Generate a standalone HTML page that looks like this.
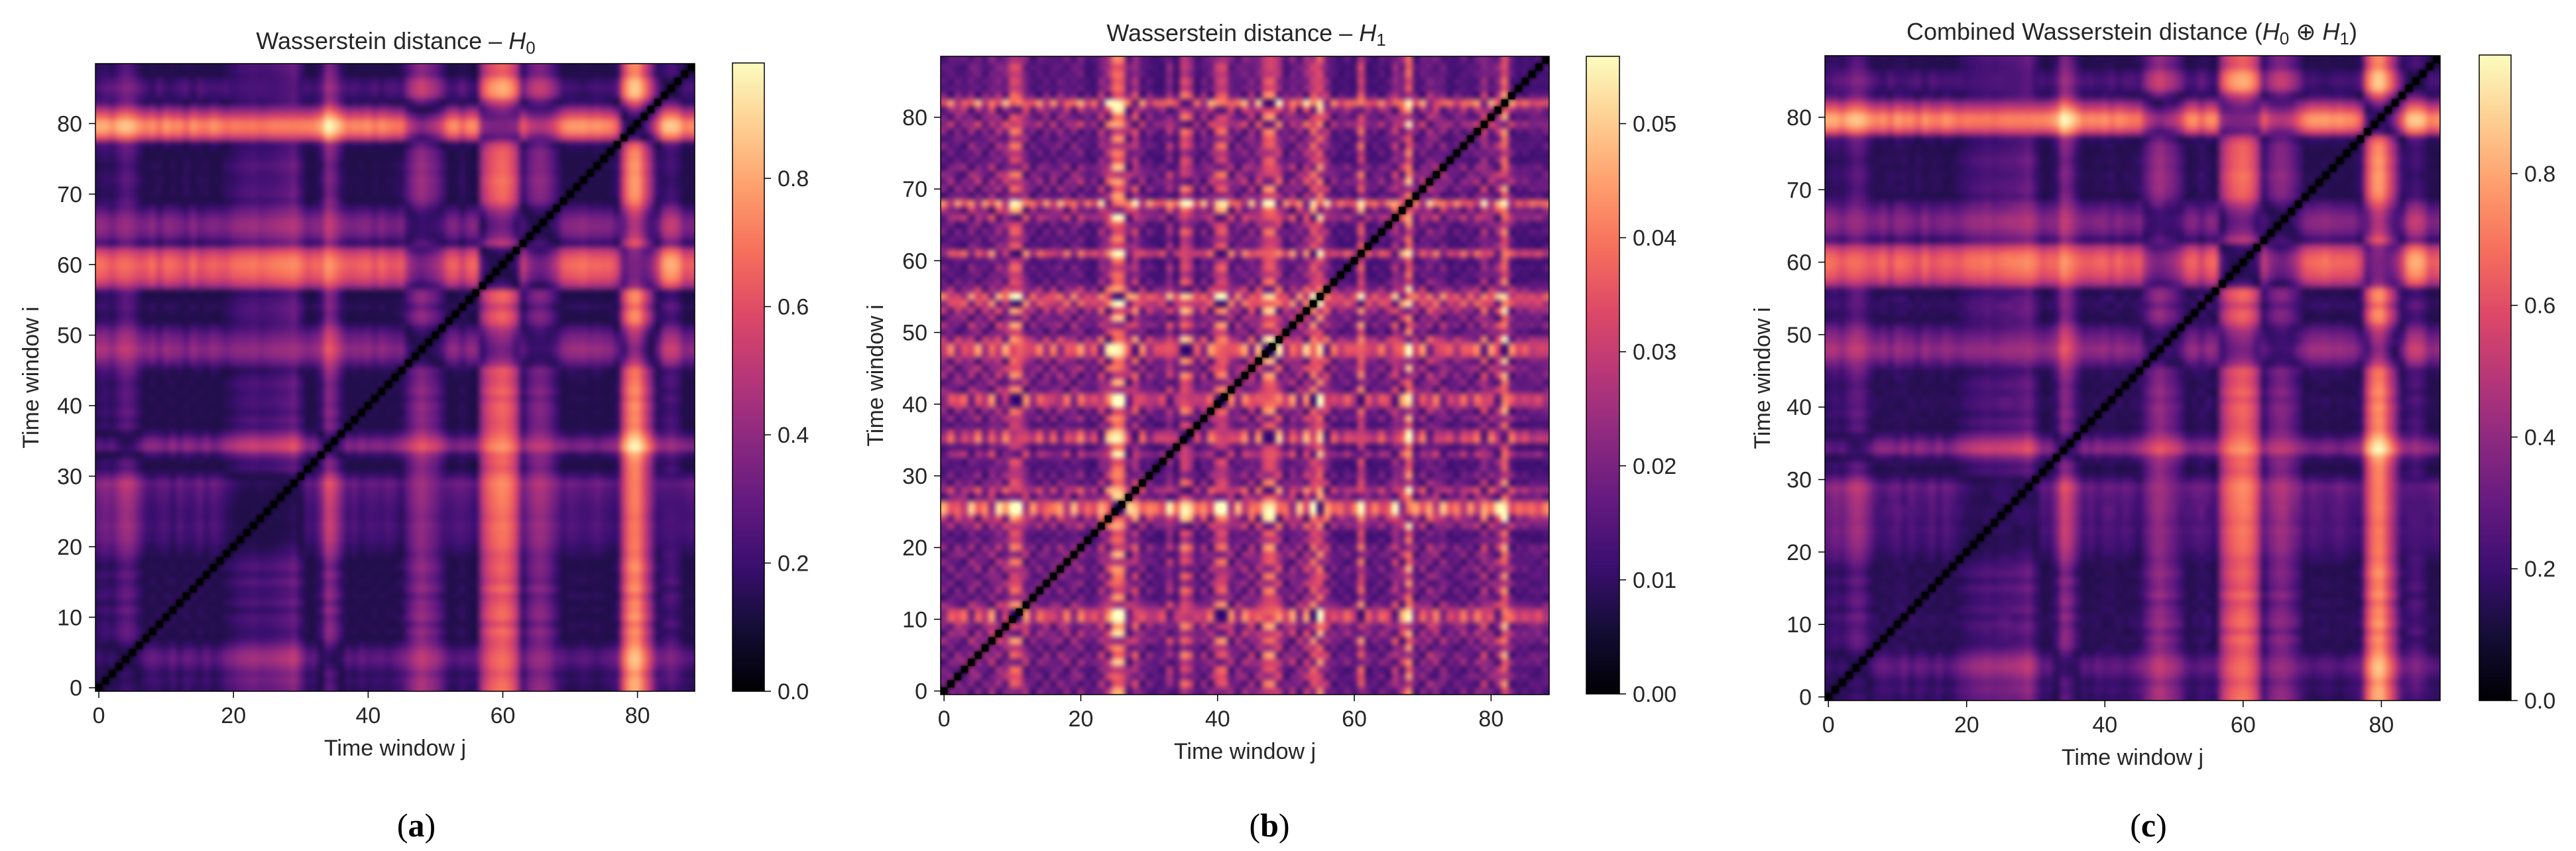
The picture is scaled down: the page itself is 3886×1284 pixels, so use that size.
<!DOCTYPE html>
<html><head><meta charset="utf-8">
<style>
html,body{margin:0;padding:0;background:#fff;}
#root{position:relative;width:3886px;height:1284px;overflow:hidden;background:#fff;}
canvas{position:absolute;}
svg{position:absolute;left:0;top:0;}
</style></head>
<body>
<div id="root">
<canvas id="hmA"></canvas>
<canvas id="hmB"></canvas>
<canvas id="hmC"></canvas>
<canvas id="cbA"></canvas>
<canvas id="cbB"></canvas>
<canvas id="cbC"></canvas>
<svg id="ov" width="3886" height="1284"></svg>
</div>
<script>
// ---- Data: per-window embedding coordinates for H0 ----
const windows = Array.from({length:89},(_, k)=>k);
const h0X = [0.05,0.1,0.1,0.15,0.2,0.18,0.1,0,-0.05,0.02,0,-0.05,0.03,0,-0.03,0.05,-0.02,0.02,0,-0.05,
 -0.1,-0.14,-0.15,-0.17,-0.14,-0.15,-0.17,-0.19,-0.21,-0.24,-0.14,0,-0.02,0.1,0.25,0.22,0.1,
 0,0.03,-0.03,0,0.02,-0.02,0.03,0,-0.05,0.05,0.1,0.1,0.08,0.05,0.02,0,0.02,0.05,0,-0.02,
 0.24,0.32,0.36,0.38,0.36,0.28,0.1,0.15,0.2,0.2,0.15,0.1,0,0.02,0,-0.03,0,0.03,0,-0.02,0,
 0.1,0.12,0.12,0.1,0.05,0,-0.1,-0.15,-0.1,0,0.02];
const h0Y = [0.1,0.1,0.05,0.12,0.15,0.12,0.05,0,0.02,-0.03,0.05,0,0.02,-0.05,0.03,0,-0.02,0.04,0,-0.05,
 -0.04,-0.06,-0.07,-0.07,-0.08,-0.07,-0.06,-0.07,-0.08,-0.1,-0.04,0,0.02,0.1,0.25,0.2,0.1,
 0,0.02,0,0.03,-0.02,0.02,0,-0.03,-0.05,-0.2,-0.3,-0.35,-0.3,-0.25,-0.15,0,0.03,-0.05,0.02,0,
 -0.32,-0.44,-0.48,-0.5,-0.46,-0.36,-0.1,-0.2,-0.25,-0.25,-0.2,-0.1,0,0.05,0.05,0.05,0.03,0.05,0.02,0,-0.1,
 -0.5,-0.68,-0.7,-0.55,-0.35,-0.1,0.1,0.12,0.1,0,0.02];
// ---- Data: per-window embedding coordinates for H1 ----
const h1X = [0.012,-0.01,0.005,-0.008,0.015,-0.012,0.01,-0.015,0.02,-0.005,0.035,0.03,-0.01,0.008,-0.012,0.006,-0.004,0.014,-0.01,0.01,
 -0.016,0.004,-0.006,0.018,-0.02,-0.04,-0.035,0.012,0.022,-0.008,0.01,0.002,-0.004,0.018,0.003,0.03,0.025,-0.002,0.012,-0.014,
 0.026,0.032,-0.01,0.008,-0.018,0.01,-0.012,0.028,0.03,-0.02,0.006,-0.016,0.014,-0.022,0.03,-0.034,0.016,-0.006,0.004,-0.008,
 0.002,0.032,-0.004,0.006,-0.01,0.004,0.02,-0.016,-0.036,0.01,-0.012,0.016,-0.006,0.012,-0.004,0.008,-0.01,0.004,-0.014,0.018,
 -0.008,0.02,0.03,-0.012,0.002,-0.004,0.004,-0.002,0.006];
const h1Y = [0.005,0.008,-0.012,-0.006,0.01,0.012,-0.005,-0.01,0.008,0.02,0.015,0.02,-0.015,0.006,0.004,-0.01,0.012,-0.006,-0.008,0.012,
 0.006,-0.004,0.002,-0.012,0.018,-0.02,-0.025,0.014,-0.018,0.01,-0.006,0.004,-0.002,0.016,0.001,-0.02,-0.015,0.006,-0.01,0.008,
 0.022,0.018,-0.012,0.014,0.004,-0.016,0.016,-0.024,-0.026,0.02,-0.008,-0.01,0.01,0.012,0.02,-0.018,-0.014,0.008,-0.002,-0.004,
 0.006,0.02,-0.006,0.002,0.004,-0.008,0.016,-0.012,0.026,0.006,0.01,-0.01,-0.014,0.012,0.004,-0.004,-0.006,0.01,0.002,-0.016,
 0.014,0.012,-0.03,0.008,0.002,0.004,-0.002,-0.004,0.004];
const vmaxA = 0.98, vmaxB = 0.0559, vmaxC = 0.98;
const ticksXY = [0,10,20,30,40,50,60,70,80];
const ticksXLab = [0,20,40,60,80];
const cbTicksA = [0,0.2,0.4,0.6,0.8];
const cbTicksB = [0,0.01,0.02,0.03,0.04,0.05];

const MAGMA = [[0,0,4],[20,14,54],[59,15,112],[100,26,128],[140,41,129],[183,55,121],[222,73,104],[247,112,92],[254,159,109],[254,207,146],[252,253,191]];
function magma(t){t=Math.max(0,Math.min(1,t));const s=t*10,i=Math.min(9,Math.floor(s)),f=s-i;const a=MAGMA[i],b=MAGMA[i+1];
 return [a[0]+(b[0]-a[0])*f,a[1]+(b[1]-a[1])*f,a[2]+(b[2]-a[2])*f];}
function dist(X,Y,i,j,floor){if(i===j)return 0;const dx=X[i]-X[j],dy=Y[i]-Y[j];return Math.sqrt(dx*dx+dy*dy+floor*floor);}
const N = windows.length;
const matA=[],matB=[],matC=[];
for(let i=0;i<N;i++){matA.push([]);matB.push([]);matC.push([]);
 for(let j=0;j<N;j++){const a=dist(h0X,h0Y,i,j,0.13),b=0.78*dist(h1X,h1Y,i,j,0.014);
  matA[i].push(a);matB[i].push(b);matC[i].push(i===j?0:Math.sqrt(a*a+(b*2.5)*(b*2.5)));}}

const panels = [
 {id:'A',mat:matA,vmax:vmaxA,x0:144,x1:1048,y0:96,y1:1043,cb:[1105,1153,95,1043],cbt:cbTicksA,fmt:v=>v.toFixed(1),
  title:['Wasserstein distance – ','H','0'],ty:74,tx:597,lab:'(a)',lx:628,ylx:46},
 {id:'B',mat:matB,vmax:vmaxB,x0:1419,x1:2337,y0:85,y1:1048,cb:[2393,2443,85,1047],cbt:cbTicksB,fmt:v=>v.toFixed(2),
  title:['Wasserstein distance – ','H','1'],ty:62,tx:1880,lab:'(b)',lx:1915,ylx:1320},
 {id:'C',mat:matC,vmax:vmaxC,x0:2753,x1:3681,y0:84,y1:1057,cb:[3740,3788,83,1057],cbt:cbTicksA,fmt:v=>v.toFixed(1),
  title:['Combined Wasserstein distance (','H','0',' ⊕ ','H','1',')'],ty:60,tx:3216,lab:'(c)',lx:3241,ylx:2658}
];
const NS='http://www.w3.org/2000/svg';
const ov=document.getElementById('ov');
function el(tag,attrs,parent,text){const e=document.createElementNS(NS,tag);for(const k in attrs)e.setAttribute(k,attrs[k]);if(text!==undefined)e.textContent=text;(parent||ov).appendChild(e);return e;}
const TXT='#262626', FONT='"Liberation Sans", "DejaVu Sans", sans-serif';

panels.forEach(p=>{
 const sx=v=>p.x0+(v+0.5)*(p.x1-p.x0)/N;
 const sy=v=>p.y1-(v+0.5)*(p.y1-p.y0)/N;
 const off=document.createElement('canvas');off.width=N;off.height=N;
 const octx=off.getContext('2d');const img=octx.createImageData(N,N);
 for(let i=0;i<N;i++)for(let j=0;j<N;j++){const c=magma(p.mat[i][j]/p.vmax);const k=((N-1-i)*N+j)*4;
  img.data[k]=c[0];img.data[k+1]=c[1];img.data[k+2]=c[2];img.data[k+3]=255;}
 octx.putImageData(img,0,0);
 const cv=document.getElementById('hm'+p.id);const w=p.x1-p.x0,h=p.y1-p.y0;
 cv.width=w;cv.height=h;cv.style.left=p.x0+'px';cv.style.top=p.y0+'px';
 const ctx=cv.getContext('2d');ctx.imageSmoothingEnabled=true;ctx.imageSmoothingQuality='high';ctx.drawImage(off,0,0,w,h);
 // sharp diagonal cells
 const cw=w/N,ch=h/N;const c0=magma(0);ctx.fillStyle=`rgb(${c0[0]|0},${c0[1]|0},${c0[2]|0})`;
 for(let i=0;i<N;i++){ctx.fillRect(i*cw,(N-1-i)*ch,cw,ch);}
 const [cx0,cx1,cy0,cy1]=p.cb;const cb=document.getElementById('cb'+p.id);
 cb.width=cx1-cx0;cb.height=cy1-cy0;cb.style.left=cx0+'px';cb.style.top=cy0+'px';
 const cctx=cb.getContext('2d');
 for(let y=0;y<cb.height;y++){const c=magma(1-y/(cb.height-1));cctx.fillStyle=`rgb(${c[0]|0},${c[1]|0},${c[2]|0})`;cctx.fillRect(0,y,cb.width,1);}
 const g=el('g',{});
 
 
 el('rect',{x:p.x0,y:p.y0,width:w,height:h,fill:'none',stroke:'#000','stroke-width':1.5},g);
 el('rect',{x:cx0,y:cy0,width:cx1-cx0,height:cy1-cy0,fill:'none',stroke:'#000','stroke-width':1.5},g);
 ticksXY.forEach(t=>{const y=sy(t);
  el('line',{x1:p.x0-10,x2:p.x0,y1:y,y2:y,stroke:'#000','stroke-width':1.5},g);
  const tl=el('text',{x:p.x0-20,y:y+12,'text-anchor':'end','font-size':34,fill:TXT,'font-family':FONT},g,String(t));
  
  
 });
 ticksXLab.forEach(t=>{const x=sx(t);
  el('line',{x1:x,x2:x,y1:p.y1,y2:p.y1+10,stroke:'#000','stroke-width':1.5},g);
  const tl=el('text',{x:x,y:p.y1+48,'text-anchor':'middle','font-size':34,fill:TXT,'font-family':FONT},g,String(t));
  
  
 });
 p.cbt.forEach(t=>{const y=cy1-(t/p.vmax)*(cy1-cy0);
  el('line',{x1:cx1,x2:cx1+10,y1:y,y2:y,stroke:'#000','stroke-width':1.5},g);
  const tl=el('text',{x:cx1+20,y:y+12,'font-size':34,fill:TXT,'font-family':FONT},g,p.fmt(t));
  
  
 });
 const xl=el('text',{x:(p.x0+p.x1)/2,y:p.y1+97,'text-anchor':'middle','font-size':34,fill:TXT,'font-family':FONT},g,'Time window j');
 
 
 const yc=(p.y0+p.y1)/2;
 const yl=el('text',{x:p.ylx,y:yc,'text-anchor':'middle','font-size':34,fill:TXT,'font-family':FONT,transform:`rotate(-90 ${p.ylx} ${yc}) translate(0 12)`},g,'Time window i');
 
 
 const tt=el('text',{x:p.tx,y:p.ty,'text-anchor':'middle','font-size':36,fill:TXT,'font-family':FONT},g);
 
 
 const parts=p.title;
 for(let k=0;k<parts.length;k++){
  if(parts[k]==='H'){el('tspan',{'font-style':'italic'},tt,'H');el('tspan',{'font-size':26,'baseline-shift':'-25%'},tt,parts[k+1]);k++;}
  else el('tspan',{},tt,parts[k]);
 }
 const pl=el('text',{x:p.lx,y:1262,'text-anchor':'middle','font-size':50,fill:'#000','font-family':'"Liberation Serif", serif'},g);
 
 
 el('tspan',{},pl,'(');el('tspan',{'font-weight':'bold'},pl,p.lab[1]);el('tspan',{},pl,')');
});
</script>
</body></html>
